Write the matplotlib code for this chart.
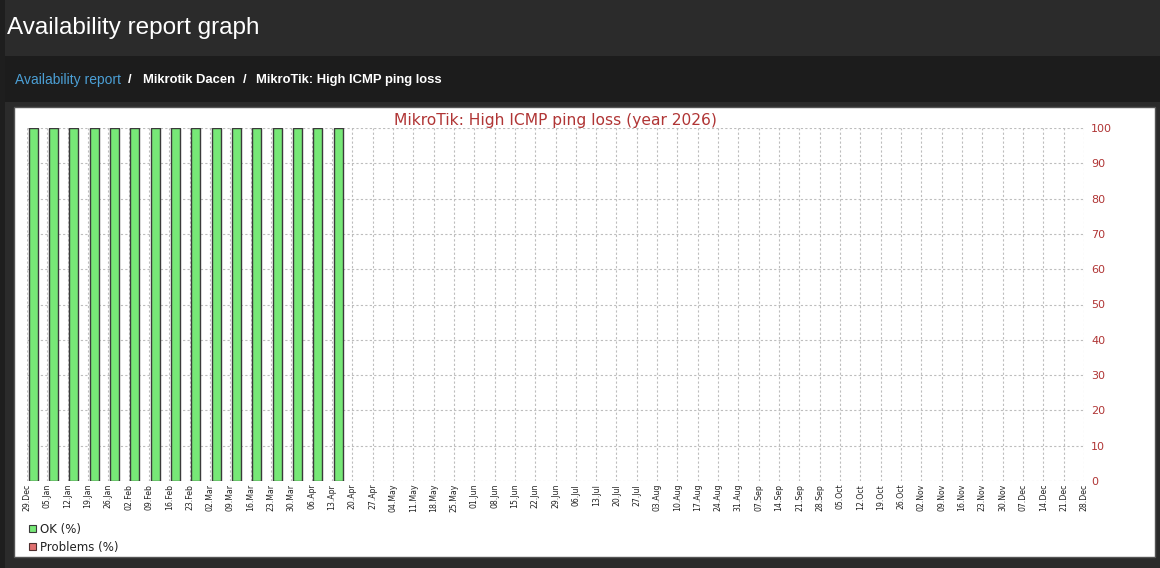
import matplotlib.pyplot as plt
from matplotlib.patches import Rectangle
import numpy as np

# weekly periods of 2026 report
week_labels = ['29.Dec', '05.Jan', '12.Jan', '19.Jan', '26.Jan', '02.Feb', '09.Feb', '16.Feb',
               '23.Feb', '02.Mar', '09.Mar', '16.Mar', '23.Mar', '30.Mar', '06.Apr', '13.Apr',
               '20.Apr', '27.Apr', '04.May', '11.May', '18.May', '25.May', '01.Jun', '08.Jun',
               '15.Jun', '22.Jun', '29.Jun', '06.Jul', '13.Jul', '20.Jul', '27.Jul', '03.Aug',
               '10.Aug', '17.Aug', '24.Aug', '31.Aug', '07.Sep', '14.Sep', '21.Sep', '28.Sep',
               '05.Oct', '12.Oct', '19.Oct', '26.Oct', '02.Nov', '09.Nov', '16.Nov', '23.Nov',
               '30.Nov', '07.Dec', '14.Dec', '21.Dec', '28.Dec']
ok_pct = [100, 100, 100, 100, 100, 100, 100, 100, 100, 100, 100, 100, 100, 100, 100, 100]
problem_pct = [0, 0, 0, 0, 0, 0, 0, 0, 0, 0, 0, 0, 0, 0, 0, 0]
y_ticks = [0, 10, 20, 30, 40, 50, 60, 70, 80, 90, 100]

W, H = 1160, 568
fig = plt.figure(figsize=(W / 100, H / 100), dpi=100)
fig.patch.set_facecolor('#2b2b2b')


def box(x, y, w, h, **kw):
    # rectangle in pixel coords (y from top)
    fig.patches.append(Rectangle((x / W, 1 - (y + h) / H), w / W, h / H,
                                 transform=fig.transFigure, figure=fig, **kw))


def txt(x, y, s, **kw):
    fig.text(x / W, 1 - y / H, s, **kw)


# page chrome
box(0, 0, W, 56, facecolor='#2b2b2b', edgecolor='none')
box(0, 56, W, 46, facecolor='#1c1c1c', edgecolor='none')
box(0, 0, 5, H, facecolor='#1e1e1e', edgecolor='none')
box(14, 107, 1141, 450, facecolor='white', edgecolor='#555555', linewidth=1)

txt(7, 28, 'Availability report graph', color='white', fontsize=17.5,
    family='Liberation Sans', va='center')
txt(15, 80, 'Availability report', color='#4b9fd5', fontsize=10,
    family='Liberation Sans', va='center')
txt(128, 80, '/', color='white', fontsize=9.4, family='Liberation Sans',
    weight='bold', va='center')
txt(143, 80, 'Mikrotik Dacen', color='white', fontsize=9.4, family='Liberation Sans',
    weight='bold', va='center')
txt(243, 80, '/', color='white', fontsize=9.4, family='Liberation Sans',
    weight='bold', va='center')
txt(256, 80, 'MikroTik: High ICMP ping loss', color='white', fontsize=9.4,
    family='Liberation Sans', weight='bold', va='center')

# chart
ax = fig.add_axes([27 / W, 1 - 481 / H, (1084 - 27) / W, (481 - 128) / H])
ax.set_zorder(5)
ax.set_facecolor('white')
x = np.arange(len(ok_pct))
ax.bar(x + 0.08, ok_pct, width=0.45, align='edge', color='#77e877',
       edgecolor='#3a3a3a', linewidth=1, zorder=3)
ax.bar(x + 0.08, problem_pct, bottom=ok_pct, width=0.45, align='edge',
       color='#e07070', edgecolor='#4f2f2f', linewidth=0, zorder=3)

ax.set_xlim(0, len(week_labels) - 1)
ax.set_ylim(0, 100)
ax.set_xticks(np.arange(len(week_labels)))
ax.set_xticklabels(week_labels, rotation=90, fontsize=5.6, color='#222222')
ax.set_yticks(y_ticks)
ax.yaxis.tick_right()
ax.tick_params(axis='y', length=0, pad=5, labelsize=8, labelcolor='#b03535')
ax.tick_params(axis='x', length=0, pad=2)
ax.grid(True, color='#bdbdbd', linestyle=(0, (2, 2)), linewidth=0.8, zorder=0)
for s in ax.spines.values():
    s.set_visible(False)
ax.set_title('MikroTik: High ICMP ping loss (year 2026)', color='#b03535',
             fontsize=11.2, pad=1)

# legend
box(29, 525, 7, 7, facecolor='#77e877', edgecolor='#3a3a3a', linewidth=0.8)
txt(40, 529, 'OK (%)', color='#222222', fontsize=8.5, va='center')
box(29, 543, 7, 7, facecolor='#e07070', edgecolor='#4f2f2f', linewidth=0.8)
txt(40, 547, 'Problems (%)', color='#222222', fontsize=8.5, va='center')

plt.savefig('out.png', dpi=100, facecolor=fig.get_facecolor())
